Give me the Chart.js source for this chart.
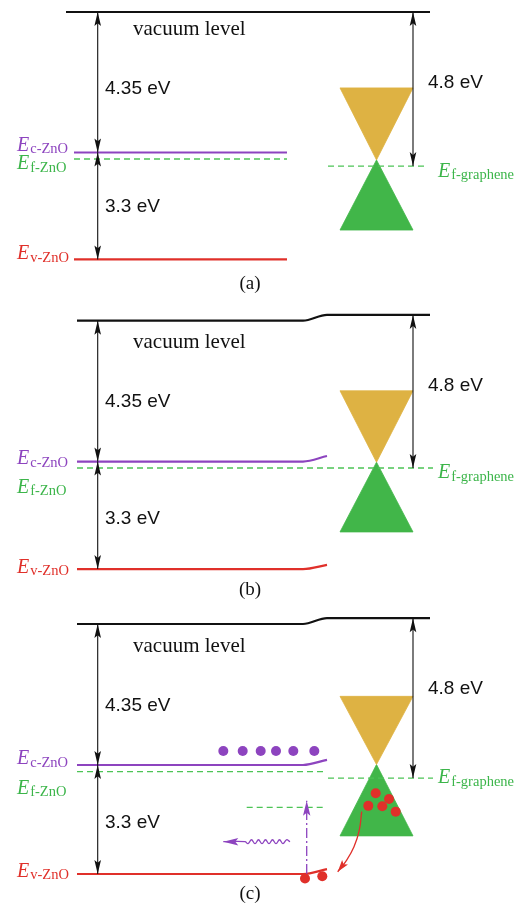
<!DOCTYPE html>
<html>
<head>
<meta charset="utf-8">
<script src="https://cdn.jsdelivr.net/npm/chart.js@4.4.0/dist/chart.umd.min.js"></script>
<style>
  html, body { margin: 0; padding: 0; background: #fff; overflow: hidden; width: 519px; height: 907px; }
  .panel { position: absolute; left: 0; width: 519px; }
  canvas { display: block; }
</style>
</head>
<body>
<div class="panel" style="top:0;height:302px"><canvas id="panel-0" width="519" height="302" style="width:519px;height:302px"></canvas></div>
<div class="panel" style="top:302px;height:302px"><canvas id="panel-1" width="519" height="302" style="width:519px;height:302px"></canvas></div>
<div class="panel" style="top:604px;height:303px"><canvas id="panel-2" width="519" height="303" style="width:519px;height:303px"></canvas></div>
<script>
// --- Data: energies in eV relative to the ZnO vacuum level, one entry per panel (a, b, c) ---
const captions = ['(a)', '(b)', '(c)'];
const energyLabels = ['4.35 eV', '3.3 eV', '4.8 eV'];
const vacuumGraphene = [0, 0.18, 0.18];
const conductionZnO = [-4.35, -4.36, -4.365];
const fermiZnO = [-4.55, -4.56, -4.57];
const valenceZnO = [-7.66, -7.69, -7.74];
const fermiGraphene = [-4.77, -4.56, -4.77];
const conductionBend = [0, 0.17, 0.16];
const valenceBend = [0, 0.13, 0.15];
const coneTop = [-2.35, -2.17, -2.24];
const diracPoint = [-4.58, -4.38, -4.35];
const coneBase = [-6.75, -6.54, -6.56];

// positions along the junction (arbitrary position units)
const xVacuumStart = [66, 77, 77];
const xZnOStart = [74, 77, 77];
const xZnOFlatEnd = [287, 303, 303];
const xFermiZnOEnd = [287, 328, 325];
const xGrDashEnd = [428, 433, 433];
const xCone = [340, 376.5, 413];

// panel (c): carriers and transitions
const cbElectronsX = [223.3, 242.7, 260.7, 276, 293.3, 314.3];
const cbElectronsE = [-3.93, -3.93, -3.93, -3.93, -3.93, -3.93];
const grCarriersX = [375.7, 389, 368.3, 382.3, 395.7];
const grCarriersE = [-5.24, -5.42, -5.63, -5.64, -5.81];
const vbCarriersX = [305, 322.3];
const vbCarriersE = [-7.88, -7.81];
const trapX = [246.7, 326];
const trapE = [-5.68, -5.68];
const excitationX = [306.7, 306.7];
const excitationE = [-7.74, -5.47];
const photonX = [290, 286.5, 283, 279.5, 276, 272.5, 269, 265.5, 262, 258.5, 255, 251.5, 248, 245, 223.3];
const photonE = [-6.74, -6.68, -6.80, -6.68, -6.80, -6.68, -6.80, -6.68, -6.80, -6.68, -6.80, -6.68, -6.80, -6.74, -6.74];
const transferX = [361.7, 359.3, 354, 346.7, 337.7];
const transferE = [-5.81, -6.38, -6.90, -7.31, -7.67];

// text baselines (eV)
const vacuumTextE = [-0.71, -0.85, -0.86];
const affinityTextE = [-2.54, -2.66, -2.68];
const gapTextE = [-6.19, -6.30, -6.31];
const workTextE = [-2.35, -2.17, -2.18];
const captionTextE = [-8.59, -8.48, -8.50];
const ecTextE = [-4.29, -4.44, -4.34];
const efTextE = [-4.87, -5.33, -5.26];
const evTextE = [-7.66, -7.80, -7.82];
const efGrTextE = [-5.10, -4.88, -4.93];

// --- Style ---
const PX_PER_EV = 32.3;
const panelHeights = [302, 302, 303];
const panelTopE = [0.372, 0.579, 0.619];
const BLACK = '#111111';
const PURPLE = '#8d44bf';
const GREEN_LINE = '#4cc456';
const GREEN_TEXT = '#3cb54a';
const RED = '#e0302a';
const ORANGE = '#deb243';
const CONE_GREEN = '#41b649';
const SERIF = '"Liberation Serif", "Times New Roman", serif';
const SANS = '"Liberation Sans", Arial, sans-serif';

function pts(xs, es) {
  return xs.map((x, k) => ({ x, y: es[k] }));
}

function line(data, color, width, extra) {
  return Object.assign({
    data, borderColor: color, borderWidth: width,
    pointRadius: 0, fill: false, tension: 0
  }, extra);
}

function dots(data, color) {
  return { data, showLine: false, pointRadius: 5, pointBackgroundColor: color, pointBorderWidth: 0, borderColor: color };
}

// level that is flat in ZnO and bends up at the interface
function bentLevel(i, level, bend) {
  const p = [{ x: xZnOStart[i], y: level }, { x: xZnOFlatEnd[i], y: level }];
  if (bend > 0) p.push({ x: 327, y: level + bend });
  return p;
}

// barbed arrow heads at the ends of datasets flagged with `arrow`
const arrowHeads = {
  id: 'arrowHeads',
  afterDatasetsDraw(chart) {
    const ctx = chart.ctx;
    chart.data.datasets.forEach((ds, i) => {
      if (!ds.arrow) return;
      const p = chart.getDatasetMeta(i).data;
      const [len, half] = ds.arrowSize || [14, 3.3];
      const head = (tip, from) => {
        const ang = Math.atan2(tip.y - from.y, tip.x - from.x);
        ctx.save();
        ctx.translate(tip.x, tip.y);
        ctx.rotate(ang);
        ctx.beginPath();
        ctx.moveTo(0, 0);
        ctx.lineTo(-len, -half);
        ctx.lineTo(-len * 0.8, 0);
        ctx.lineTo(-len, half);
        ctx.closePath();
        ctx.fillStyle = ds.borderColor;
        ctx.fill();
        ctx.restore();
      };
      const n = p.length;
      if (ds.arrow === 'end' || ds.arrow === 'both') head(p[n - 1], p[n - 2]);
      if (ds.arrow === 'both') head(p[0], p[1]);
    });
  }
};

function textPlugin(items) {
  return {
    id: 'bandText',
    afterDraw(chart) {
      const { ctx, scales: { x, y } } = chart;
      items.forEach(t => {
        const px = x.getPixelForValue(t.x), py = y.getPixelForValue(t.y);
        ctx.save();
        ctx.fillStyle = t.color || BLACK;
        ctx.font = t.font;
        ctx.textAlign = t.align || 'left';
        ctx.textBaseline = 'alphabetic';
        ctx.fillText(t.text, px, py);
        if (t.sub) {
          const w = ctx.measureText(t.text).width;
          ctx.font = '14.5px ' + SERIF;
          ctx.textAlign = 'left';
          ctx.fillText(t.sub, px + w + 1, py + 2.5);
        }
        ctx.restore();
      });
    }
  };
}

function buildPanel(i) {
  const dashed = { borderDash: [6, 4] };
  const ds = [];

  if (i === 2) {
    ds.push(dots(pts(cbElectronsX, cbElectronsE), PURPLE));
    ds.push(dots(pts(grCarriersX, grCarriersE), RED));
    ds.push(dots(pts(vbCarriersX, vbCarriersE), RED));
    ds.push(line(pts(excitationX, excitationE), PURPLE, 1.3, { borderDash: [10, 3, 2, 3], arrow: 'end', arrowSize: [15, 3.7] }));
    ds.push(line(pts(photonX, photonE), PURPLE, 1.3, { tension: 0.4, arrow: 'end', arrowSize: [15, 3.7] }));
    ds.push(line(pts(transferX, transferE), RED, 1.3, { tension: 0.4, arrow: 'end', arrowSize: [12, 3.7] }));
    ds.push(line(pts(trapX, trapE), GREEN_LINE, 1.3, dashed));
  }

  // energy arrows
  ds.push(line([{ x: 97.7, y: 0 }, { x: 97.7, y: conductionZnO[i] }], BLACK, 1.1, { arrow: 'both' }));
  ds.push(line([{ x: 97.7, y: conductionZnO[i] }, { x: 97.7, y: valenceZnO[i] }], BLACK, 1.1, { arrow: 'both' }));
  ds.push(line([{ x: 413, y: vacuumGraphene[i] }, { x: 413, y: fermiGraphene[i] }], BLACK, 1.1, { arrow: 'both' }));

  // levels
  const vac = [{ x: xVacuumStart[i], y: 0 }];
  if (vacuumGraphene[i] > 0) {
    vac.push({ x: 303, y: 0 }, { x: 327, y: vacuumGraphene[i] });
  }
  vac.push({ x: 430, y: vacuumGraphene[i] });
  ds.push(line(vac, BLACK, 2.2, { cubicInterpolationMode: 'monotone' }));
  ds.push(line(bentLevel(i, conductionZnO[i], conductionBend[i]), PURPLE, 2.2, { cubicInterpolationMode: 'monotone' }));
  ds.push(line(bentLevel(i, valenceZnO[i], valenceBend[i]), RED, 2.2, { cubicInterpolationMode: 'monotone' }));
  ds.push(line([{ x: xZnOStart[i], y: fermiZnO[i] }, { x: xFermiZnOEnd[i], y: fermiZnO[i] }], GREEN_LINE, 1.3, dashed));
  ds.push(line([{ x: 328, y: fermiGraphene[i] }, { x: xGrDashEnd[i], y: fermiGraphene[i] }], GREEN_LINE, 1.3, dashed));

  // graphene Dirac cones
  ds.push(line([
    { x: xCone[0], y: coneTop[i] }, { x: xCone[2], y: coneTop[i] },
    { x: xCone[1], y: diracPoint[i] }, { x: xCone[0], y: coneTop[i] }
  ], ORANGE, 0.8, { fill: 'shape', backgroundColor: ORANGE }));
  ds.push(line([
    { x: xCone[1], y: diracPoint[i] }, { x: xCone[2], y: coneBase[i] },
    { x: xCone[0], y: coneBase[i] }, { x: xCone[1], y: diracPoint[i] }
  ], CONE_GREEN, 0.8, { fill: 'shape', backgroundColor: CONE_GREEN }));

  const texts = [
    { text: 'vacuum level', x: 133, y: vacuumTextE[i], font: '21px ' + SERIF },
    { text: energyLabels[0], x: 105, y: affinityTextE[i], font: '19px ' + SANS },
    { text: energyLabels[1], x: 105, y: gapTextE[i], font: '19px ' + SANS },
    { text: energyLabels[2], x: 428, y: workTextE[i], font: '19px ' + SANS },
    { text: captions[i], x: 250, y: captionTextE[i], font: '19px ' + SERIF, align: 'center' },
    { text: 'E', sub: 'c-ZnO', x: 17, y: ecTextE[i], font: 'italic 20px ' + SERIF, color: PURPLE },
    { text: 'E', sub: 'f-ZnO', x: 17, y: efTextE[i], font: 'italic 20px ' + SERIF, color: GREEN_TEXT },
    { text: 'E', sub: 'v-ZnO', x: 17, y: evTextE[i], font: 'italic 20px ' + SERIF, color: RED },
    { text: 'E', sub: 'f-graphene', x: 438, y: efGrTextE[i], font: 'italic 20px ' + SERIF, color: GREEN_TEXT }
  ];

  return new Chart(document.getElementById('panel-' + i), {
    type: 'line',
    data: { datasets: ds },
    options: {
      responsive: false,
      animation: false,
      events: [],
      layout: { padding: 0, autoPadding: false },
      scales: {
        x: { type: 'linear', min: 0, max: 519, display: false },
        y: { type: 'linear', min: panelTopE[i] - panelHeights[i] / PX_PER_EV, max: panelTopE[i], display: false }
      },
      plugins: { legend: { display: false }, tooltip: { enabled: false } }
    },
    plugins: [arrowHeads, textPlugin(texts)]
  });
}

captions.forEach((c, i) => buildPanel(i));
</script>
</body>
</html>
